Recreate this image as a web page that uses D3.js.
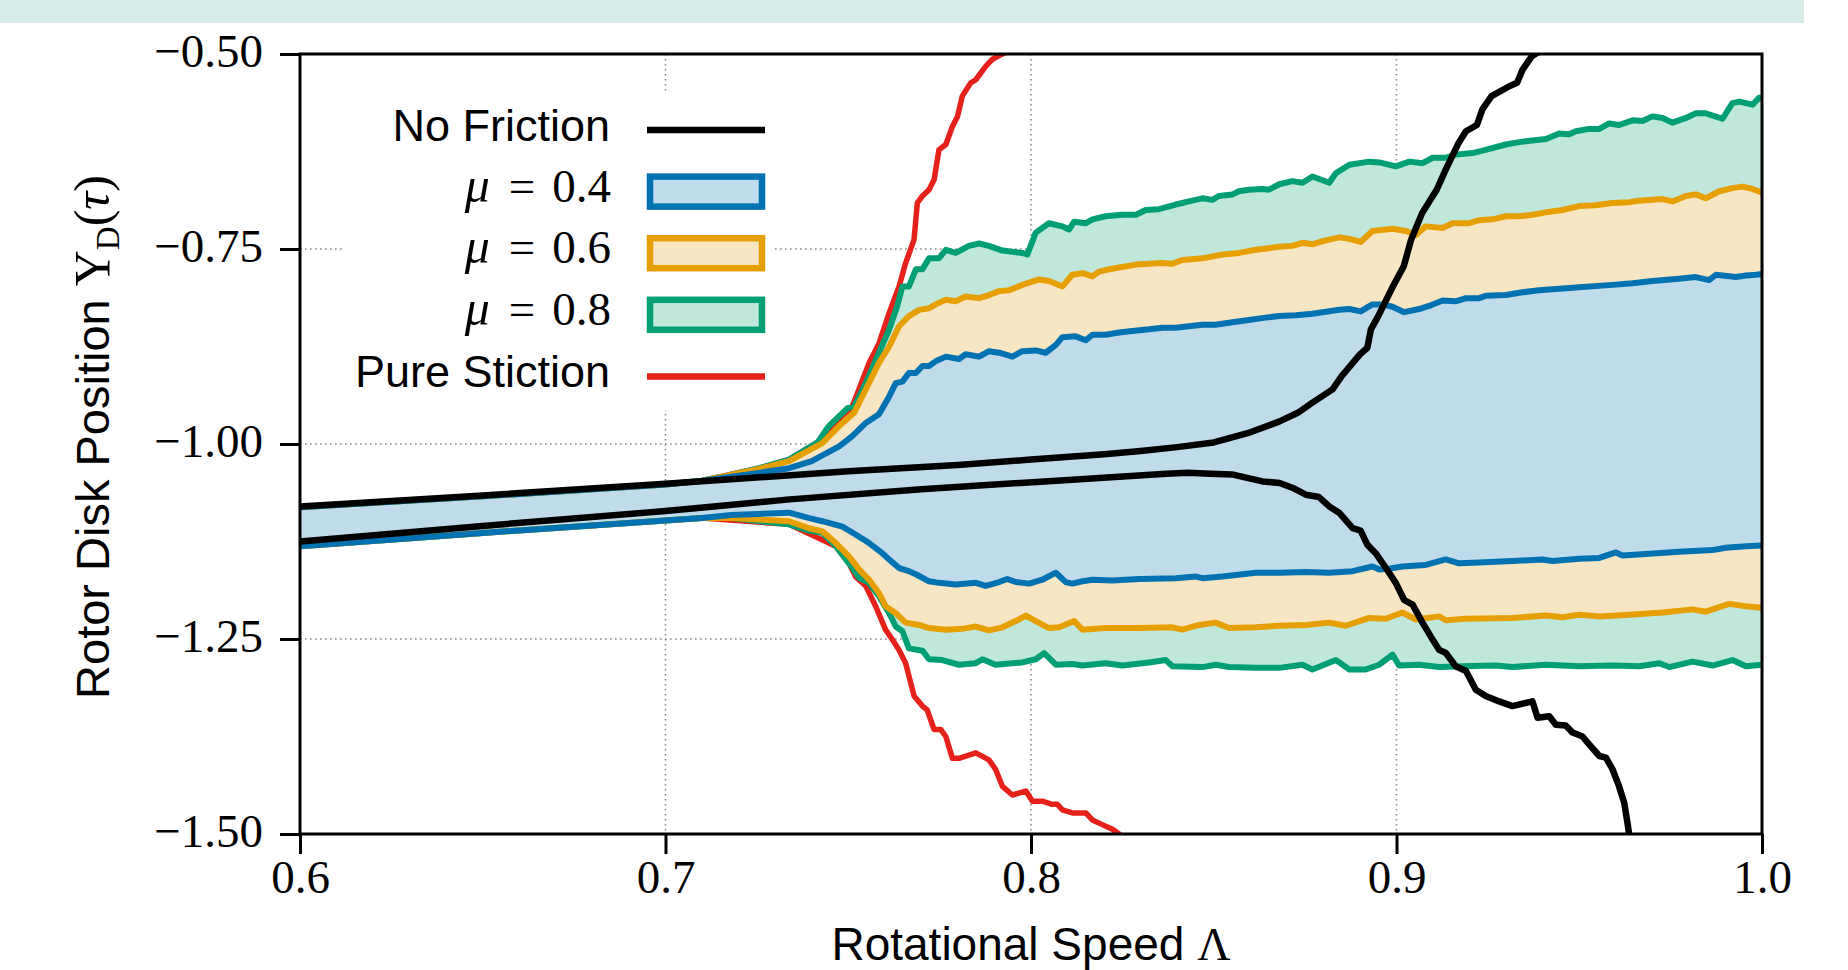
<!DOCTYPE html>
<html>
<head>
<meta charset="utf-8">
<script src="https://cdn.jsdelivr.net/npm/d3@7"></script>
<style>
  body { margin: 0; background: #fff; }
  svg { display: block; }
</style>
</head>
<body>
<script>
// ---- data : [rotational speed, rotor disk position] ----
const xTicks = [0.6, 0.7, 0.8, 0.9, 1.0];
const yTicks = [-0.5, -0.75, -1.0, -1.25, -1.5];
const gridX = [0.7, 0.8, 0.9];
const gridY = [-0.75, -1.0, -1.25];

const noFrictionUpper = [
  [0.600,-1.080],[0.650,-1.066],[0.700,-1.051],[0.750,-1.035],[0.780,-1.027],[0.800,-1.020],
  [0.820,-1.013],[0.830,-1.009],[0.840,-1.004],[0.850,-0.998],[0.860,-0.985],[0.868,-0.971],
  [0.873,-0.960],[0.877,-0.947],[0.8825,-0.930],[0.885,-0.913],[0.890,-0.885],[0.892,-0.877],
  [0.893,-0.853],[0.895,-0.836],[0.899,-0.798],[0.902,-0.772],[0.904,-0.738],[0.907,-0.704],
  [0.911,-0.674],[0.9135,-0.648],[0.917,-0.614],[0.919,-0.599],[0.922,-0.591],[0.9235,-0.571],
  [0.926,-0.554],[0.931,-0.541],[0.933,-0.537],[0.9345,-0.520],[0.937,-0.503],[0.939,-0.497]
];
const noFrictionLower = [
  [0.600,-1.125],[0.650,-1.105],[0.700,-1.086],[0.734,-1.071],[0.770,-1.058],[0.807,-1.047],
  [0.837,-1.038],[0.843,-1.037],[0.849,-1.038],[0.855,-1.039],[0.8633,-1.048],[0.868,-1.050],
  [0.8715,-1.056],[0.8752,-1.065],[0.8788,-1.068],[0.8816,-1.080],[0.8843,-1.088],[0.888,-1.108],
  [0.8902,-1.111],[0.892,-1.129],[0.8943,-1.140],[0.8971,-1.159],[0.8998,-1.178],[0.9021,-1.200],
  [0.9044,-1.206],[0.9071,-1.229],[0.9094,-1.247],[0.9117,-1.264],[0.9135,-1.268],[0.9162,-1.285],
  [0.919,-1.291],[0.9217,-1.315],[0.9244,-1.323],[0.9281,-1.330],[0.9317,-1.336],[0.9372,-1.330],
  [0.9386,-1.351],[0.9418,-1.349],[0.9436,-1.360],[0.9463,-1.361],[0.9482,-1.370],[0.9509,-1.375],
  [0.9527,-1.385],[0.9555,-1.400],[0.9573,-1.402],[0.9591,-1.417],[0.9609,-1.439],[0.9623,-1.460],
  [0.9632,-1.486],[0.9637,-1.502]
];

// below about 0.71 all friction cases share the same envelope
const sharedUpper = [[0.600,-1.081],[0.650,-1.067],[0.700,-1.052],[0.710,-1.047]];
const sharedLower = [[0.600,-1.131],[0.650,-1.114],[0.700,-1.098],[0.710,-1.095]];

const mu04Upper = sharedUpper.concat([
  [0.7165,-1.043],[0.7256,-1.037],[0.7338,-1.031],[0.740,-1.022],[0.7475,-1.003],[0.7511,-0.990],
  [0.7548,-0.973],[0.7584,-0.962],[0.7612,-0.939],[0.7630,-0.922],[0.7648,-0.920],[0.7666,-0.909],
  [0.7685,-0.909],[0.7703,-0.900],[0.7721,-0.900],[0.7739,-0.894],[0.7767,-0.888],[0.7803,-0.891],
  [0.7821,-0.885],[0.7858,-0.888],[0.7885,-0.881],[0.7913,-0.883],[0.7949,-0.888],[0.7976,-0.881],
  [0.8013,-0.880],[0.8040,-0.883],[0.8068,-0.873],[0.8086,-0.863],[0.8122,-0.862],[0.8150,-0.867],
  [0.8168,-0.860],[0.8204,-0.860],[0.8241,-0.857],[0.8277,-0.855],[0.8323,-0.853],[0.8359,-0.851],
  [0.8396,-0.851],[0.8432,-0.849],[0.8469,-0.847],[0.8505,-0.847],[0.8551,-0.844],[0.8596,-0.841],
  [0.8642,-0.838],[0.8679,-0.836],[0.8725,-0.835],[0.8770,-0.833],[0.8798,-0.831],[0.8843,-0.828],
  [0.8871,-0.827],[0.8902,-0.830],[0.8934,-0.821],[0.8962,-0.821],[0.8989,-0.824],[0.9021,-0.831],
  [0.9062,-0.827],[0.9089,-0.823],[0.9126,-0.816],[0.9162,-0.817],[0.9190,-0.813],[0.9226,-0.813],
  [0.9244,-0.810],[0.9299,-0.809],[0.9336,-0.806],[0.9390,-0.803],[0.9445,-0.801],[0.9500,-0.799],
  [0.9591,-0.796],[0.9646,-0.794],[0.9700,-0.791],[0.9773,-0.788],[0.9819,-0.786],[0.9855,-0.790],
  [0.9874,-0.783],[0.9928,-0.786],[0.9956,-0.784],[0.9983,-0.783],[1.000,-0.782]
]);
const mu04Lower = sharedLower.concat([
  [0.718,-1.091],[0.7338,-1.088],[0.7393,-1.095],[0.7429,-1.099],[0.7484,-1.106],[0.7520,-1.116],
  [0.7557,-1.127],[0.7593,-1.140],[0.7612,-1.148],[0.7639,-1.159],[0.7666,-1.163],[0.7685,-1.167],
  [0.7721,-1.176],[0.7748,-1.178],[0.7794,-1.180],[0.7849,-1.178],[0.7876,-1.182],[0.7913,-1.177],
  [0.7935,-1.173],[0.7958,-1.177],[0.7995,-1.179],[0.8031,-1.174],[0.8068,-1.165],[0.8095,-1.177],
  [0.8113,-1.179],[0.8141,-1.176],[0.8168,-1.174],[0.8223,-1.175],[0.8296,-1.173],[0.8396,-1.172],
  [0.8451,-1.170],[0.8469,-1.172],[0.8524,-1.170],[0.8615,-1.165],[0.8679,-1.165],[0.8752,-1.164],
  [0.8816,-1.165],[0.8880,-1.163],[0.8934,-1.157],[0.8953,-1.161],[0.8980,-1.160],[0.9016,-1.157],
  [0.9080,-1.155],[0.9135,-1.148],[0.9171,-1.153],[0.9226,-1.152],[0.9317,-1.150],[0.9399,-1.148],
  [0.9427,-1.150],[0.9500,-1.147],[0.9555,-1.146],[0.9600,-1.139],[0.9618,-1.143],[0.9682,-1.141],
  [0.9773,-1.138],[0.9865,-1.136],[0.9901,-1.133],[0.9956,-1.131],[1.000,-1.130]
]);

const mu06Upper = sharedUpper.concat([
  [0.7165,-1.041],[0.7256,-1.032],[0.7338,-1.022],[0.7429,-0.999],[0.7475,-0.977],[0.7516,-0.960],
  [0.7548,-0.930],[0.7584,-0.896],[0.7612,-0.875],[0.7639,-0.849],[0.7666,-0.836],[0.7694,-0.828],
  [0.7721,-0.826],[0.7739,-0.821],[0.7767,-0.815],[0.7794,-0.817],[0.7821,-0.811],[0.7858,-0.813],
  [0.7885,-0.809],[0.7913,-0.804],[0.7940,-0.803],[0.7976,-0.796],[0.8022,-0.789],[0.8049,-0.791],
  [0.8086,-0.798],[0.8113,-0.783],[0.8141,-0.781],[0.8168,-0.785],[0.8186,-0.779],[0.8213,-0.776],
  [0.8250,-0.773],[0.8287,-0.770],[0.8323,-0.769],[0.8359,-0.768],[0.8387,-0.769],[0.8414,-0.764],
  [0.8469,-0.762],[0.8524,-0.757],[0.8569,-0.755],[0.8615,-0.751],[0.8651,-0.749],[0.8679,-0.747],
  [0.8715,-0.746],[0.8743,-0.742],[0.8770,-0.744],[0.8798,-0.740],[0.8843,-0.735],[0.8871,-0.737],
  [0.8902,-0.741],[0.8934,-0.727],[0.8989,-0.724],[0.9026,-0.727],[0.9053,-0.732],[0.9080,-0.721],
  [0.9126,-0.723],[0.9153,-0.717],[0.9199,-0.717],[0.9226,-0.713],[0.9263,-0.712],[0.9299,-0.708],
  [0.9336,-0.708],[0.9372,-0.706],[0.9409,-0.703],[0.9454,-0.700],[0.9500,-0.695],[0.9545,-0.694],
  [0.9591,-0.691],[0.9636,-0.690],[0.9664,-0.688],[0.9700,-0.687],[0.9728,-0.686],[0.9755,-0.689],
  [0.9792,-0.682],[0.9819,-0.680],[0.9846,-0.685],[0.9883,-0.676],[0.9919,-0.672],[0.9946,-0.670],
  [0.9974,-0.673],[1.000,-0.678]
]);
const mu06Lower = sharedLower.concat([
  [0.718,-1.095],[0.7338,-1.099],[0.7393,-1.108],[0.7429,-1.112],[0.7466,-1.127],[0.7502,-1.144],
  [0.7530,-1.161],[0.7557,-1.174],[0.7584,-1.191],[0.7602,-1.208],[0.7630,-1.217],[0.7657,-1.229],
  [0.7694,-1.232],[0.7721,-1.236],[0.7767,-1.238],[0.7812,-1.237],[0.7849,-1.234],[0.7885,-1.239],
  [0.7922,-1.235],[0.7958,-1.227],[0.7986,-1.220],[0.8013,-1.227],[0.8049,-1.236],[0.8077,-1.235],
  [0.8118,-1.227],[0.8141,-1.238],[0.8204,-1.236],[0.8296,-1.236],[0.8387,-1.235],[0.8414,-1.238],
  [0.8460,-1.232],[0.8505,-1.229],[0.8542,-1.236],[0.8615,-1.235],[0.8679,-1.233],[0.8752,-1.232],
  [0.8816,-1.229],[0.8861,-1.233],[0.8925,-1.223],[0.8971,-1.224],[0.9016,-1.216],[0.9053,-1.225],
  [0.9117,-1.221],[0.9135,-1.226],[0.9190,-1.224],[0.9317,-1.223],[0.9409,-1.220],[0.9454,-1.222],
  [0.9500,-1.219],[0.9555,-1.221],[0.9637,-1.219],[0.9728,-1.216],[0.9810,-1.212],[0.9846,-1.215],
  [0.9910,-1.205],[0.9956,-1.208],[1.000,-1.210]
]);

const mu08Upper = sharedUpper.concat([
  [0.7165,-1.041],[0.7256,-1.031],[0.7338,-1.020],[0.7416,-0.998],[0.7447,-0.977],[0.7498,-0.954],
  [0.7516,-0.952],[0.7548,-0.922],[0.7584,-0.883],[0.7612,-0.853],[0.7634,-0.823],[0.7648,-0.798],
  [0.7666,-0.798],[0.7685,-0.776],[0.7703,-0.776],[0.7721,-0.762],[0.7748,-0.762],[0.7767,-0.751],
  [0.7794,-0.755],[0.7830,-0.746],[0.7858,-0.743],[0.7885,-0.746],[0.7922,-0.752],[0.7976,-0.755],
  [0.7990,-0.757],[0.8013,-0.729],[0.8049,-0.717],[0.8086,-0.721],[0.8104,-0.725],[0.8118,-0.715],
  [0.8150,-0.717],[0.8168,-0.712],[0.8204,-0.708],[0.8250,-0.706],[0.8287,-0.706],[0.8314,-0.700],
  [0.8350,-0.699],[0.8396,-0.693],[0.8432,-0.689],[0.8469,-0.685],[0.8496,-0.687],[0.8514,-0.682],
  [0.8551,-0.680],[0.8569,-0.676],[0.8596,-0.674],[0.8633,-0.673],[0.8651,-0.674],[0.8679,-0.667],
  [0.8715,-0.663],[0.8743,-0.665],[0.8770,-0.657],[0.8816,-0.665],[0.8834,-0.653],[0.8871,-0.642],
  [0.8925,-0.638],[0.8953,-0.639],[0.8998,-0.644],[0.9035,-0.638],[0.9071,-0.640],[0.9099,-0.633],
  [0.9135,-0.633],[0.9162,-0.629],[0.9208,-0.627],[0.9244,-0.623],[0.9299,-0.616],[0.9336,-0.613],
  [0.9372,-0.611],[0.9409,-0.609],[0.9445,-0.602],[0.9472,-0.603],[0.9491,-0.599],[0.9527,-0.596],
  [0.9555,-0.596],[0.9582,-0.589],[0.9609,-0.591],[0.9646,-0.585],[0.9673,-0.586],[0.9700,-0.580],
  [0.9728,-0.582],[0.9755,-0.588],[0.9792,-0.582],[0.9819,-0.576],[0.9846,-0.576],[0.9865,-0.579],
  [0.9892,-0.583],[0.9919,-0.563],[0.9938,-0.561],[0.9974,-0.565],[0.9992,-0.556],[1.000,-0.556]
]);
const mu08Lower = sharedLower.concat([
  [0.718,-1.095],[0.7338,-1.103],[0.7393,-1.111],[0.7429,-1.114],[0.7466,-1.131],[0.7502,-1.153],
  [0.7530,-1.172],[0.7557,-1.178],[0.7584,-1.195],[0.7612,-1.217],[0.7630,-1.234],[0.7648,-1.240],
  [0.7666,-1.262],[0.7703,-1.265],[0.7721,-1.276],[0.7757,-1.277],[0.7803,-1.283],[0.7849,-1.281],
  [0.7867,-1.276],[0.7903,-1.283],[0.7976,-1.280],[0.8013,-1.276],[0.8036,-1.268],[0.8068,-1.283],
  [0.8113,-1.282],[0.8141,-1.284],[0.8204,-1.281],[0.8250,-1.284],[0.8323,-1.280],[0.8369,-1.277],
  [0.8387,-1.285],[0.8469,-1.286],[0.8505,-1.283],[0.8542,-1.286],[0.8615,-1.287],[0.8679,-1.287],
  [0.8743,-1.283],[0.8770,-1.289],[0.8834,-1.277],[0.8871,-1.289],[0.8916,-1.289],[0.8953,-1.283],
  [0.8989,-1.270],[0.9007,-1.284],[0.9062,-1.283],[0.9117,-1.286],[0.9181,-1.285],[0.9272,-1.284],
  [0.9317,-1.286],[0.9409,-1.283],[0.9500,-1.285],[0.9591,-1.284],[0.9664,-1.285],[0.9719,-1.281],
  [0.9746,-1.286],[0.9810,-1.279],[0.9865,-1.284],[0.9919,-1.277],[0.9956,-1.285],[1.000,-1.283]
]);

const stictionUpper = [
  [0.710,-1.047],[0.7256,-1.031],[0.7338,-1.020],[0.7416,-0.998],[0.7470,-0.970],[0.7511,-0.952],
  [0.7557,-0.896],[0.7584,-0.871],[0.7612,-0.832],[0.7639,-0.798],[0.7657,-0.768],[0.7680,-0.738],
  [0.7689,-0.691],[0.7703,-0.682],[0.7721,-0.674],[0.7735,-0.661],[0.7748,-0.623],[0.7767,-0.616],
  [0.7785,-0.593],[0.7799,-0.580],[0.7812,-0.554],[0.7835,-0.537],[0.7849,-0.533],[0.7876,-0.516],
  [0.7894,-0.507],[0.7917,-0.501],[0.7935,-0.497]
];
const stictionLower = [
  [0.710,-1.095],[0.7338,-1.103],[0.7466,-1.131],[0.7502,-1.153],[0.7520,-1.170],[0.7548,-1.182],
  [0.7575,-1.208],[0.7602,-1.238],[0.7621,-1.251],[0.7639,-1.264],[0.7657,-1.281],[0.7680,-1.323],
  [0.7703,-1.336],[0.7716,-1.341],[0.7735,-1.366],[0.7753,-1.366],[0.7767,-1.375],[0.7785,-1.403],
  [0.7803,-1.403],[0.7849,-1.396],[0.7885,-1.405],[0.7903,-1.417],[0.7922,-1.439],[0.7949,-1.450],
  [0.7986,-1.445],[0.8004,-1.458],[0.8031,-1.458],[0.8058,-1.462],[0.8072,-1.462],[0.8086,-1.469],
  [0.8113,-1.473],[0.8150,-1.473],[0.8168,-1.482],[0.8195,-1.488],[0.8223,-1.494],[0.8250,-1.503]
];

// ---- layout ----
const W = 1848, H = 970;
const plot = { left: 300, right: 1762, top: 54, bottom: 834 };

const colors = {
  blue: "#0072b2", blueFill: "#c0dcea",
  orange: "#e69f00", orangeFill: "#f7e6c3",
  green: "#009e73", greenFill: "#bfe7da",
  red: "#e5211a", black: "#000000"
};

const svg = d3.select("body").append("svg")
  .attr("width", W)
  .attr("height", H);

// strip at the very top of the page
svg.append("rect")
  .attr("x", 0).attr("y", 0)
  .attr("width", 1804).attr("height", 23)
  .attr("fill", "#d6ece8");

const x = d3.scaleLinear().domain([0.6, 1.0]).range([plot.left, plot.right]);
const y = d3.scaleLinear().domain([-1.5, -0.5]).range([plot.bottom, plot.top]);

svg.append("clipPath").attr("id", "plot-clip")
  .append("rect")
  .attr("x", plot.left).attr("y", plot.top)
  .attr("width", plot.right - plot.left).attr("height", plot.bottom - plot.top);

// grid
const grid = svg.append("g")
  .attr("stroke", "#8a8a8a")
  .attr("stroke-width", 1.6)
  .attr("stroke-dasharray", "1.6,3.4");
grid.selectAll("line.gx").data(gridX).enter().append("line")
  .attr("x1", d => x(d)).attr("x2", d => x(d))
  .attr("y1", plot.top).attr("y2", plot.bottom);
grid.selectAll("line.gy").data(gridY).enter().append("line")
  .attr("x1", plot.left).attr("x2", plot.right)
  .attr("y1", d => y(d)).attr("y2", d => y(d));

const layer = svg.append("g").attr("clip-path", "url(#plot-clip)");

const line = d3.line().x(d => x(d[0])).y(d => y(d[1]));
const band = (upper, lower) => line(upper.concat(lower.slice().reverse())) + "Z";

// filled envelopes, widest first
[[mu08Upper, mu08Lower, colors.greenFill],
 [mu06Upper, mu06Lower, colors.orangeFill],
 [mu04Upper, mu04Lower, colors.blueFill]].forEach(([u, l, c]) => {
  layer.append("path")
    .attr("d", band(u, l))
    .attr("fill", c)
    .attr("stroke", "none");
});

const drawLine = (data, color, width) => {
  layer.append("path")
    .datum(data)
    .attr("d", line)
    .attr("fill", "none")
    .attr("stroke", color)
    .attr("stroke-width", width)
    .attr("stroke-linejoin", "round");
};

drawLine(stictionUpper, colors.red, 5.5);
drawLine(stictionLower, colors.red, 5.5);
drawLine(mu08Upper, colors.green, 6);
drawLine(mu08Lower, colors.green, 6);
drawLine(mu06Upper, colors.orange, 6);
drawLine(mu06Lower, colors.orange, 6);
drawLine(mu04Upper, colors.blue, 6);
drawLine(mu04Lower, colors.blue, 6);
drawLine(noFrictionUpper, colors.black, 6.5);
drawLine(noFrictionLower, colors.black, 6.5);

// axes
const xAxis = svg.append("g")
  .attr("transform", `translate(0,${plot.bottom})`)
  .call(d3.axisBottom(x).tickValues(xTicks).tickFormat(d3.format(".1f"))
        .tickSize(20).tickSizeOuter(0).tickPadding(6));
const yAxis = svg.append("g")
  .attr("transform", `translate(${plot.left},0)`)
  .call(d3.axisLeft(y).tickValues(yTicks).tickFormat(d3.format(".2f"))
        .tickSize(20).tickSizeOuter(0).tickPadding(17));

[xAxis, yAxis].forEach(g => {
  g.select(".domain").remove();
  g.selectAll(".tick line").attr("stroke", "#000").attr("stroke-width", 3);
  g.selectAll(".tick text")
    .attr("font-family", "'Liberation Serif', 'Times New Roman', serif")
    .attr("font-size", 47)
    .attr("fill", "#000");
});
yAxis.selectAll(".tick text").attr("dy", "0.27em");

// frame
svg.append("rect")
  .attr("x", plot.left).attr("y", plot.top)
  .attr("width", plot.right - plot.left).attr("height", plot.bottom - plot.top)
  .attr("fill", "none")
  .attr("stroke", "#000")
  .attr("stroke-width", 3);

// axis labels
const xLabel = svg.append("text")
  .attr("x", (plot.left + plot.right) / 2)
  .attr("y", 960)
  .attr("text-anchor", "middle")
  .attr("font-size", 46)
  .attr("fill", "#000");
xLabel.append("tspan").attr("font-family", "'Liberation Sans', Arial, sans-serif").text("Rotational Speed ");
xLabel.append("tspan").attr("font-family", "'Liberation Serif', serif").text("Λ");

const yLabel = svg.append("text")
  .attr("transform", "translate(109,437) rotate(-90)")
  .attr("text-anchor", "middle")
  .attr("font-size", 47)
  .attr("fill", "#000");
yLabel.append("tspan").attr("font-family", "'Liberation Sans', Arial, sans-serif").text("Rotor Disk Position ");
yLabel.append("tspan").attr("font-family", "'Liberation Serif', serif").attr("font-size", 50).text("Υ");
yLabel.append("tspan").attr("font-family", "'Liberation Serif', serif")
  .attr("font-size", 33).attr("dy", "0.3em").text("D");
yLabel.append("tspan").attr("font-family", "'Liberation Serif', serif")
  .attr("font-size", 50).attr("dy", "-0.2em").text("(");
yLabel.append("tspan").attr("font-family", "'Liberation Serif', serif")
  .attr("font-size", 50).attr("font-style", "italic").text("τ");
yLabel.append("tspan").attr("font-family", "'Liberation Serif', serif")
  .attr("font-size", 50).text(")");

// legend
const legendItems = [
  { label: "No Friction", kind: "line", color: colors.black, width: 6.5 },
  { label: "0.4", kind: "box", color: colors.blue, fill: colors.blueFill },
  { label: "0.6", kind: "box", color: colors.orange, fill: colors.orangeFill },
  { label: "0.8", kind: "box", color: colors.green, fill: colors.greenFill },
  { label: "Pure Stiction", kind: "line", color: colors.red, width: 6.5 }
];

const legend = svg.append("g").attr("class", "legend");
legend.append("rect")
  .attr("x", 343).attr("y", 94)
  .attr("width", 430).attr("height", 316)
  .attr("fill", "#fff");

const rowY = i => 130 + i * 61.6;

legendItems.forEach((item, i) => {
  const cy = rowY(i);
  if (item.kind === "line") {
    legend.append("line")
      .attr("x1", 647).attr("x2", 765)
      .attr("y1", cy).attr("y2", cy)
      .attr("stroke", item.color)
      .attr("stroke-width", item.width);
    legend.append("text")
      .attr("x", 610).attr("y", cy + 11)
      .attr("text-anchor", "end")
      .attr("font-family", "'Liberation Sans', Arial, sans-serif")
      .attr("font-size", 45)
      .attr("fill", "#000")
      .text(item.label);
  } else {
    legend.append("rect")
      .attr("x", 650).attr("y", cy - 15)
      .attr("width", 112).attr("height", 30)
      .attr("fill", item.fill)
      .attr("stroke", item.color)
      .attr("stroke-width", 6.5);
    const t = legend.append("text")
      .attr("x", 611).attr("y", cy + 10)
      .attr("text-anchor", "end")
      .attr("font-family", "'Liberation Serif', serif")
      .attr("font-size", 47)
      .attr("fill", "#000");
    t.append("tspan").attr("font-style", "italic").attr("font-size", 50).text("μ");
    t.append("tspan").attr("dx", 19).text("=");
    t.append("tspan").attr("dx", 17).text(item.label);
  }
});
</script>
</body>
</html>
